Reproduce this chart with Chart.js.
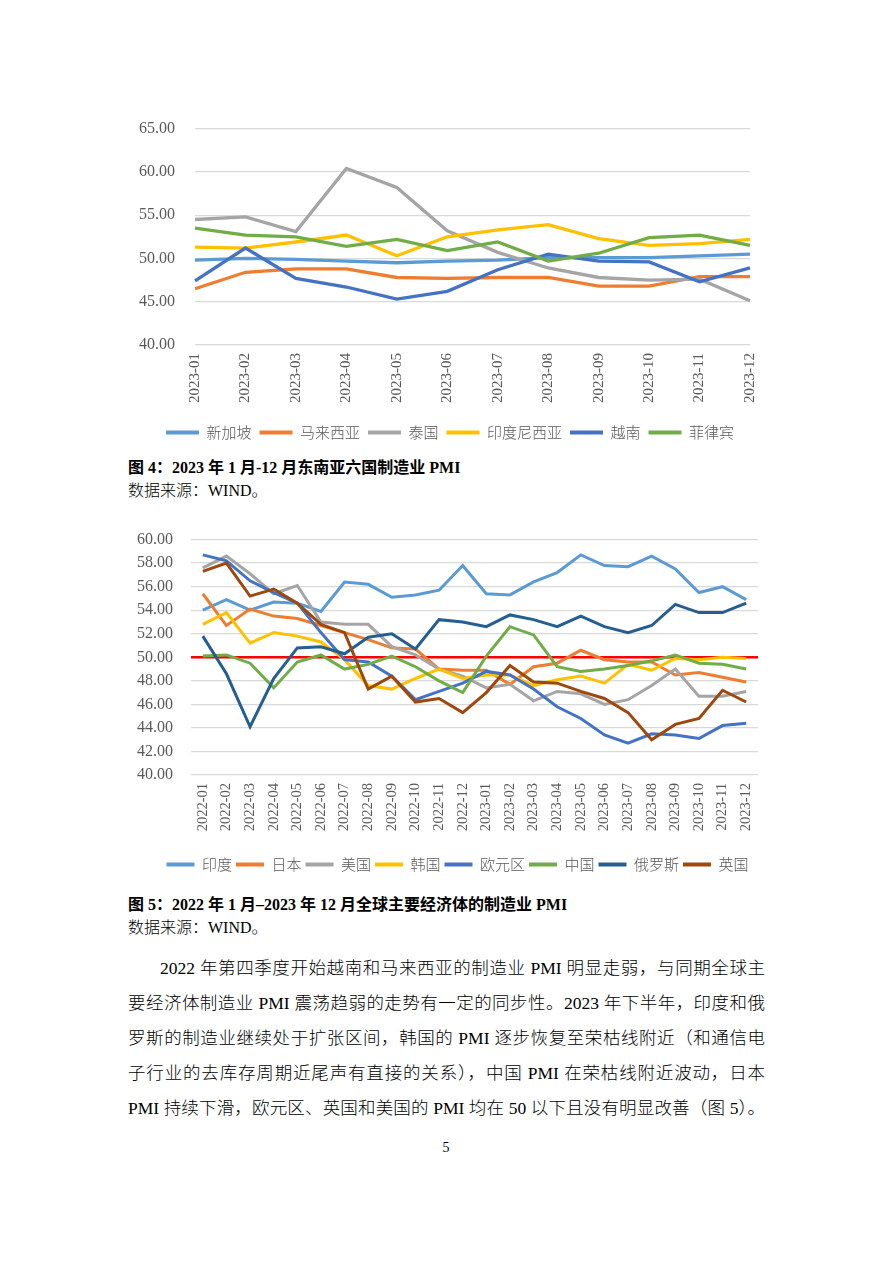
<!DOCTYPE html>
<html><head><meta charset="utf-8">
<script src="https://cdn.jsdelivr.net/npm/chart.js@4.4.1/dist/chart.umd.min.js"></script>
<style>
html,body{margin:0;padding:0;background:#fff;}
body{width:892px;height:1262px;position:relative;overflow:hidden;font-family:"Liberation Serif","Noto Sans CJK SC",serif;color:#000;}
.abs{position:absolute;}
canvas{position:absolute;}
.cap{left:128px;font-size:16px;line-height:20px;font-weight:bold;white-space:nowrap;}
.src{left:128px;font-size:16px;line-height:20px;white-space:nowrap;font-weight:300;}
.para{left:128px;width:637px;font-size:17.5px;line-height:35px;font-weight:300;}
.para div{text-align:justify;text-align-last:justify;}
.para div.first{padding-left:32px;}
.pn{left:0;width:892px;text-align:center;font-size:14px;line-height:18px;}
</style>
</head><body>
<canvas id="c1" width="650" height="351" style="left:126px;top:99px;width:650px;height:351px"></canvas>
<div class="abs cap" style="top:458px">图&nbsp;4：2023 年 1 月-12 月东南亚六国制造业 PMI</div>
<div class="abs src" style="top:481px">数据来源：WIND。</div>
<canvas id="c2" width="650" height="370" style="left:133px;top:512px;width:650px;height:370px"></canvas>
<div class="abs cap" style="top:895px">图&nbsp;5：2022 年 1 月–2023 年 12 月全球主要经济体的制造业 PMI</div>
<div class="abs src" style="top:918px">数据来源：WIND。</div>
<div class="abs para" style="top:951px">
<div class="first">2022 年第四季度开始越南和马来西亚的制造业 PMI 明显走弱，与同期全球主</div>
<div>要经济体制造业 PMI 震荡趋弱的走势有一定的同步性。2023 年下半年，印度和俄</div>
<div>罗斯的制造业继续处于扩张区间，韩国的 PMI 逐步恢复至荣枯线附近（和通信电</div>
<div>子行业的去库存周期近尾声有直接的关系），中国 PMI 在荣枯线附近波动，日本</div>
<div>PMI 持续下滑，欧元区、英国和美国的 PMI 均在 50 以下且没有明显改善（图 5）。</div>
</div>
<div class="abs pn" style="top:1139px">5</div>
<script>
// ---------- Chart 1 data: 2023 SE Asia manufacturing PMI ----------
const months1 = ['2023-01','2023-02','2023-03','2023-04','2023-05','2023-06','2023-07','2023-08','2023-09','2023-10','2023-11','2023-12'];
const names1 = ['新加坡','马来西亚','泰国','印度尼西亚','越南','菲律宾'];
const singapore = [49.8, 50.0, 49.9, 49.7, 49.5, 49.7, 49.8, 50.1, 50.1, 50.1, 50.3, 50.5];
const malaysia  = [46.5, 48.4, 48.8, 48.8, 47.8, 47.7, 47.8, 47.8, 46.8, 46.8, 47.9, 47.9];
const thailand  = [54.5, 54.8, 53.1, 60.4, 58.2, 53.2, 50.7, 48.9, 47.8, 47.5, 47.6, 45.1];
const indonesia = [51.3, 51.2, 51.9, 52.7, 50.3, 52.5, 53.3, 53.9, 52.3, 51.5, 51.7, 52.2];
const vietnam   = [47.4, 51.2, 47.7, 46.7, 45.3, 46.2, 48.7, 50.5, 49.7, 49.6, 47.3, 48.9];
const philippines = [53.5, 52.7, 52.5, 51.4, 52.2, 50.9, 51.9, 49.7, 50.6, 52.4, 52.7, 51.5];
const yTicks1 = [40, 45, 50, 55, 60, 65];

// ---------- Chart 2 data: 2022-2023 major economies manufacturing PMI ----------
const months2 = ['2022-01','2022-02','2022-03','2022-04','2022-05','2022-06','2022-07','2022-08','2022-09','2022-10','2022-11','2022-12',
                 '2023-01','2023-02','2023-03','2023-04','2023-05','2023-06','2023-07','2023-08','2023-09','2023-10','2023-11','2023-12'];
const names2 = ['印度','日本','美国','韩国','欧元区','中国','俄罗斯','英国'];
const india  = [54.0,54.9,54.0,54.7,54.6,53.9,56.4,56.2,55.1,55.3,55.7,57.8,55.4,55.3,56.4,57.2,58.7,57.8,57.7,58.6,57.5,55.5,56.0,54.9];
const japan  = [55.4,52.7,54.1,53.5,53.3,52.7,52.1,51.5,50.8,50.7,49.0,48.9,48.9,47.7,49.2,49.5,50.6,49.8,49.6,49.6,48.5,48.7,48.3,47.9];
const usa    = [57.6,58.6,57.1,55.4,56.1,53.0,52.8,52.8,50.9,50.2,49.0,48.4,47.4,47.7,46.3,47.1,46.9,46.0,46.4,47.6,49.0,46.7,46.7,47.1];
const korea  = [52.8,53.8,51.2,52.1,51.8,51.3,49.8,47.6,47.3,48.2,49.0,48.2,48.5,48.5,47.6,48.1,48.4,47.8,49.4,48.9,49.9,49.8,50.0,49.9];
const eurozone = [58.7,58.2,56.5,55.5,54.6,52.1,49.8,49.6,48.4,46.4,47.1,47.8,48.8,48.5,47.3,45.8,44.8,43.4,42.7,43.5,43.4,43.1,44.2,44.4];
const china  = [50.1,50.2,49.5,47.4,49.6,50.2,49.0,49.4,50.1,49.2,48.0,47.0,50.1,52.6,51.9,49.2,48.8,49.0,49.3,49.7,50.2,49.5,49.4,49.0];
const russia = [51.8,48.6,44.1,48.2,50.8,50.9,50.3,51.7,52.0,50.7,53.2,53.0,52.6,53.6,53.2,52.6,53.5,52.6,52.1,52.7,54.5,53.8,53.8,54.6];
const uk     = [57.3,58.0,55.2,55.8,54.6,52.8,52.1,47.3,48.4,46.2,46.5,45.3,47.0,49.3,47.9,47.8,47.1,46.5,45.3,43.0,44.3,44.8,47.2,46.2];
const yTicks2 = [40, 42, 44, 46, 48, 50, 52, 54, 56, 58, 60];
const boomBust = 50;

const colors1 = ['#5B9BD5','#ED7D31','#A5A5A5','#FFC000','#4472C4','#70AD47'];
const colors2 = ['#5B9BD5','#ED7D31','#A5A5A5','#FFC000','#4472C4','#70AD47','#255E91','#9E480E'];

const tickColor = '#595959';
const gridColor = '#D9D9D9';
const serif = '"Liberation Serif", "Times New Roman", serif';
const cjk = '"Noto Sans CJK SC", sans-serif';

function makeDatasets(names, series, colors, width){
  return names.map((n,i)=>({
    label:n, data:series[i], borderColor:colors[i], backgroundColor:colors[i],
    borderWidth:width, pointRadius:0, pointHoverRadius:0, tension:0, fill:false,
    order: -i
  }));
}
function legendLabels(chart){
  const items = Chart.defaults.plugins.legend.labels.generateLabels(chart);
  items.forEach(it=>{ it.lineWidth = 0; it.strokeStyle = 'transparent'; });
  return items.sort((a,b)=>a.datasetIndex-b.datasetIndex);
}

// horizontal reference line (boom-bust line) drawn from the y scale
const refLine = {
  id:'refLine',
  beforeDatasetsDraw(chart, args, opts){
    if(!opts || opts.value === undefined) return;
    const y = chart.scales.y.getPixelForValue(opts.value);
    const {left,right} = chart.chartArea;
    const ctx = chart.ctx;
    ctx.save(); ctx.strokeStyle = opts.color; ctx.lineWidth = opts.width;
    ctx.beginPath(); ctx.moveTo(left,y); ctx.lineTo(right,y); ctx.stroke(); ctx.restore();
  }
};
// nudge the legend horizontally after layout
const legendShift = {
  id:'legendShift',
  afterLayout(chart, args, opts){
    if(opts && opts.dx && chart.legend){ chart.legend.left += opts.dx; chart.legend.right += opts.dx; }
  }
};

function baseOptions(cfg){
  return {
    responsive:false, animation:false, devicePixelRatio:1,
    layout:{padding:{top:cfg.padTop,right:cfg.padRight,left:0,bottom:0}},
    plugins:{
      legend:{position:'bottom', labels:{boxWidth:cfg.boxW, boxHeight:4, padding:cfg.legPad, color:tickColor,
        font:{family:cjk, size:15, weight:'300'}, generateLabels:legendLabels}},
      tooltip:{enabled:false},
      refLine: cfg.ref || {},
      legendShift: {dx: cfg.legDx}
    },
    scales:{
      x:{
        offset:cfg.offset,
        grid:{display:false, drawTicks:false}, border:{display:false},
        ticks:{autoSkip:false, maxRotation:90, minRotation:90, padding:8, color:tickColor, font:{family:serif, size:cfg.xFont}},
        afterFit:(s)=>{ s.height = cfg.xH; }
      },
      y:{
        min:cfg.min, max:cfg.max,
        grid:{color:gridColor, lineWidth:1.3, drawTicks:false}, border:{display:false},
        afterBuildTicks:(s)=>{ s.ticks = cfg.yTicks.map(v=>({value:v})); },
        ticks:{padding:cfg.yPad, color:tickColor, font:{family:serif, size:16}, callback:(v)=>Number(v).toFixed(2)},
        afterFit:(s)=>{ s.width = cfg.yW; }
      }
    }
  };
}

new Chart(document.getElementById('c1'), {
  type:'line',
  data:{labels:months1, datasets:makeDatasets(names1,[singapore,malaysia,thailand,indonesia,vietnam,philippines],colors1,3.3)},
  options: baseOptions({padTop:6,padRight:20,boxW:33,legPad:8,legDx:9,offset:false,xH:72,yW:69,yPad:20,min:40,max:65,yTicks:yTicks1,xFont:15}),
  plugins:[legendShift]
});

new Chart(document.getElementById('c2'), {
  type:'line',
  data:{labels:months2, datasets:makeDatasets(names2,[india,japan,usa,korea,eurozone,china,russia,uk],colors2,3)},
  options: baseOptions({padTop:0,padRight:25,boxW:28,legPad:4,legDx:12,offset:true,xH:78,yW:58,yPad:18,min:40,max:60,yTicks:yTicks2,xFont:14.5,
    ref:{value:boomBust,color:'#FF0000',width:2.5}}),
  plugins:[refLine, legendShift]
});
</script>
</body></html>
